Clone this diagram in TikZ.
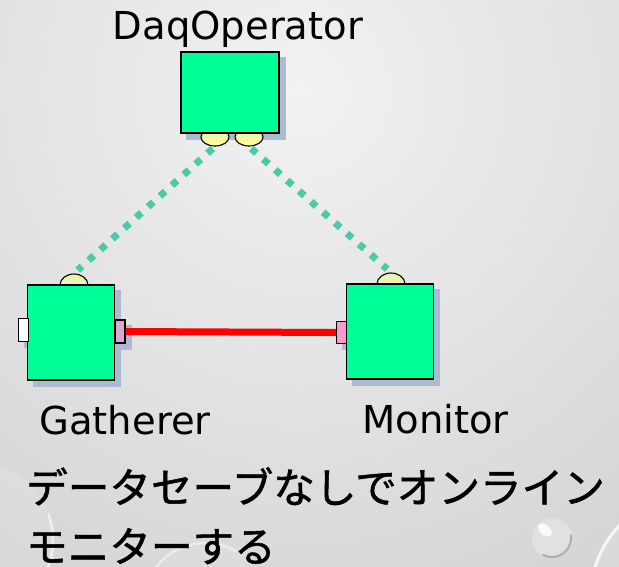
\documentclass[tikz,border=0pt]{standalone}
\usepackage{fontspec}
\setmainfont{DejaVu Sans}
\newfontfamily\jpfont[FakeBold=1.2]{Noto Sans CJK JP}
\usetikzlibrary{shapes.geometric}

\definecolor{bgin}{RGB}{242,242,242}
\definecolor{bgout}{RGB}{190,190,190}
\definecolor{boxgreen}{RGB}{0,255,153}
\definecolor{shadowblue}{RGB}{172,186,210}
\definecolor{linkteal}{RGB}{76,201,168}
\definecolor{porttop}{RGB}{232,240,180}
\definecolor{portbot}{RGB}{255,255,150}
\definecolor{portpink}{RGB}{255,153,204}
\definecolor{portmauve}{RGB}{218,168,208}

\pgfdeclarelayer{bg}
\pgfdeclarelayer{shade}
\pgfsetlayers{bg,shade,main}

\tikzset{
  comp/.style={draw=black, line width=1.4pt, fill=boxgreen, inner sep=0pt},
  svcport/.style={ellipse, draw=black, line width=1.1pt, inner sep=0pt,
    minimum width=28pt, top color=porttop, bottom color=portbot},
  sideport/.style={rectangle, draw=black, line width=1.1pt, inner sep=0pt,
    minimum width=10pt, minimum height=23pt},
  svclink/.style={linkteal, line width=7pt, dash pattern=on 7pt off 9pt},
  datalink/.style={red, line width=7pt},
  lbl/.style={anchor=base, inner sep=0pt, font=\fontsize{38.5}{44}\selectfont},
  jp/.style={anchor=base west, inner sep=0pt, font=\jpfont\fontsize{41.6}{50}\selectfont},
  rim/.style={white, line width=2.5pt, opacity=0.6},
}

\begin{document}
\begin{tikzpicture}[x=1pt,y=-1pt]
\useasboundingbox (0,0) rectangle (619,566);

% backdrop: soft grey gradient with a few water drops
\begin{pgfonlayer}{bg}
  \begin{scope}
    \clip (0,0) rectangle (619,566);
    \shade[inner color=bgin, outer color=bgout] (300,90) circle (1000);
    % large drop at the left edge
    \fill[white, opacity=0.12] (-25,540) circle (78);
    \draw[rim] (-25,540) ++(-20:78) arc (-20:50:78);
    % drop behind the second line
    \fill[white, opacity=0.10] (205,605) circle (62);
    \draw[rim, opacity=0.45] (205,605) ++(200:62) arc (200:300:62);
    % large drop at the bottom right
    \fill[white, opacity=0.12] (700,600) circle (110);
    \draw[rim, line width=3pt, opacity=0.8] (700,600) ++(175:110) arc (175:245:110);
    % small drop
    \fill[white, opacity=0.25] (552,538) circle (20);
    \draw[black!45, line width=2pt, opacity=0.6] (552,538) ++(-10:19) arc (-10:120:19);
    \fill[white, opacity=0.85, rotate around={-40:(545,530)}] (545,530) ellipse (8 and 5);
  \end{scope}
\end{pgfonlayer}

% service ports (drawn first, partly covered by the components)
\node[svcport, minimum height=18pt] (dq1) at (215,137) {};
\node[svcport, minimum height=18pt] (dq2) at (249,137) {};
\node[svcport, minimum height=22pt] (gtop) at (74,285) {};
\node[svcport, minimum height=22pt] (mtop) at (391,284) {};

% components
\node[comp, minimum width=98pt, minimum height=81pt] (dq) at (230,92.5) {};
\node[comp, minimum width=87pt, minimum height=95pt] (gat) at (71,332.5) {};
\node[comp, minimum width=86.5pt, minimum height=95pt] (mon) at (390,331.5) {};

% data ports
\node[sideport, fill=white] (gin) at (23.5,330) {};
\node[sideport, fill=portmauve] (gout) at (120,331.5) {};
\node[sideport, fill=portpink, minimum height=22pt] (min) at (341.5,332.5) {};

% drop shadows
\begin{pgfonlayer}{shade}
  \foreach \n in {dq,gat,mon,gin,gout,min}
    \fill[shadowblue] ([shift={(6,6)}]\n.north west) rectangle ([shift={(6,6)}]\n.south east);
\end{pgfonlayer}

% service connections
\draw[svclink, shorten <=3pt, shorten >=5pt] (dq1.south) -- (gtop.north);
\draw[svclink, shorten <=3pt, shorten >=5pt] (dq2.south) -- (mtop.north);

% data connection
\draw[datalink] (gout.east) -- (min.west);

% labels
\node[lbl] (tdq) at (238,39) {DaqOperator};
\node[lbl] (tgat) at (125,434) {Gatherer};
\node[lbl] (tmon) at (435.5,433) {Monitor};

\node[jp] (cap1) at (26,503) {データセーブなしでオンライン};
\node[jp] (cap2) at (26,562) {モニターする};
\end{tikzpicture}
\end{document}
